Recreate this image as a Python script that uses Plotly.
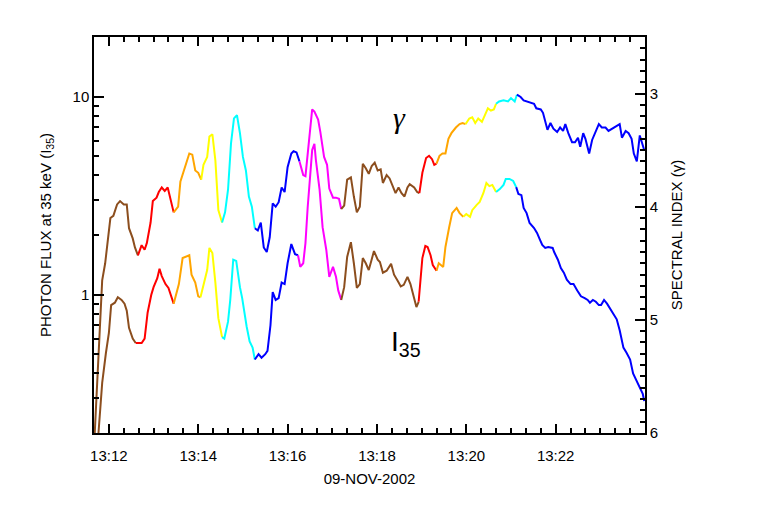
import plotly.graph_objects as go
from datetime import datetime, timedelta

# ---- data (time in seconds after 13:11:40 UT, 09-NOV-2002) ----
gamma_t = [1, 11, 15, 22, 26, 31, 35, 40, 44, 47, 52, 55, 59, 64, 68, 71, 76, 79, 84, 87,
           91, 95, 99, 102, 107, 109, 113, 116, 120, 124, 128, 132, 136, 140, 144, 147, 152, 155, 159, 163,
           167, 172, 176, 180, 184, 188, 192, 196, 200, 204, 208, 212, 216, 220, 224, 228, 232, 236, 240, 244,
           248, 252, 256, 260, 265, 268, 272, 276, 281, 284, 289, 293, 296, 301, 304, 309, 313, 316, 321, 325,
           329, 332, 336, 340, 345, 349, 353, 357, 361, 365, 369, 373, 377, 381, 385, 388, 393, 397, 401, 405,
           409, 413, 417, 421, 424, 430, 434, 437, 441, 446, 450, 454, 457, 460, 464, 468, 472, 476, 480, 486,
           491, 495, 499, 504, 508, 512, 516, 521, 525, 529, 533, 537, 540, 544, 550, 556, 560, 565, 568, 573,
           577, 582, 586, 591, 594, 600, 603, 606, 609, 613, 617, 622, 626, 630, 633, 637, 642, 646, 650, 653,
           657, 660, 665, 669, 673, 678, 682, 687, 691, 696, 700, 706, 709, 714, 718, 722, 725, 729, 733, 736, 739]
gamma_v = [6.00, 4.65, 4.50, 4.10, 4.08, 3.98, 3.95, 3.98, 3.98, 4.19, 4.28, 4.36, 4.43, 4.34, 4.38, 4.32, 4.14, 3.95, 3.92, 3.87,
           3.83, 3.86, 3.83, 3.91, 4.05, 4.03, 4.00, 3.78, 3.69, 3.60, 3.53, 3.54, 3.68, 3.70, 3.76, 3.63, 3.56, 3.38, 3.36, 3.59,
           4.03, 4.14, 4.05, 3.85, 3.44, 3.22, 3.19, 3.35, 3.56, 3.68, 3.91, 4.00, 4.19, 4.21, 4.14, 4.36, 4.40, 4.27, 3.97, 4.00,
           3.96, 3.83, 3.87, 3.65, 3.53, 3.51, 3.52, 3.60, 3.72, 3.73, 3.41, 3.14, 3.16, 3.23, 3.34, 3.56, 3.63, 3.84, 3.92, 3.92,
           3.93, 4.02, 3.99, 3.76, 3.74, 3.91, 4.05, 4.00, 3.62, 3.66, 3.71, 3.64, 3.61, 3.68, 3.67, 3.79, 3.72, 3.75, 3.82, 3.88,
           3.83, 3.88, 3.91, 3.83, 3.80, 3.83, 3.87, 3.88, 3.70, 3.57, 3.55, 3.58, 3.63, 3.62, 3.55, 3.53, 3.53, 3.40, 3.35, 3.30,
           3.27, 3.26, 3.27, 3.22, 3.21, 3.26, 3.22, 3.25, 3.19, 3.13, 3.15, 3.14, 3.09, 3.07, 3.06, 3.07, 3.04, 3.07, 3.01, 3.03,
           3.06, 3.07, 3.08, 3.09, 3.13, 3.14, 3.17, 3.25, 3.32, 3.26, 3.31, 3.34, 3.30, 3.33, 3.27, 3.35, 3.43, 3.43, 3.39, 3.47,
           3.35, 3.40, 3.53, 3.41, 3.34, 3.27, 3.30, 3.30, 3.33, 3.31, 3.30, 3.27, 3.39, 3.33, 3.35, 3.40, 3.53, 3.60, 3.37, 3.43, 3.50]

i35_t = [6, 11, 16, 20, 23, 28, 32, 37, 41, 44, 47, 52, 56, 60, 64, 68, 72, 77, 80, 85,
         88, 91, 96, 100, 104, 107, 111, 114, 119, 123, 128, 131, 136, 140, 143, 148, 152, 155, 159, 163,
         167, 172, 175, 180, 183, 187, 191, 196, 199, 205, 209, 213, 216, 221, 225, 230, 233, 237, 240, 244,
         248, 252, 256, 260, 265, 270, 274, 277, 281, 284, 287, 291, 293, 296, 298, 303, 307, 312, 316, 321,
         325, 328, 332, 336, 340, 345, 349, 353, 357, 361, 365, 369, 372, 376, 381, 384, 388, 393, 399, 403,
         408, 412, 416, 421, 425, 428, 433, 436, 441, 445, 448, 452, 455, 460, 463, 469, 472, 477, 481, 487,
         491, 496, 500, 505, 508, 514, 518, 523, 527, 531, 535, 540, 545, 550, 553, 558, 563, 567, 570, 574,
         577, 581, 585, 591, 595, 599, 602, 606, 610, 616, 618, 623, 627, 631, 635, 640, 644, 649, 654, 659,
         663, 666, 670, 674, 678, 681, 685, 689, 694, 698, 702, 706, 711, 715, 720, 724, 728, 733, 737, 739]
i35_v = [0.20, 0.358, 0.507, 0.64, 0.885, 0.91, 0.97, 0.94, 0.90, 0.83, 0.68, 0.60, 0.57, 0.57, 0.57, 0.60, 0.81, 1.00, 1.09, 1.21,
         1.35, 1.24, 1.13, 1.08, 0.97, 0.90, 1.03, 1.13, 1.53, 1.55, 1.58, 1.26, 1.15, 0.98, 0.97, 1.16, 1.33, 1.72, 1.62, 1.15,
         0.76, 0.61, 0.60, 0.73, 0.94, 1.50, 1.48, 1.09, 0.96, 0.69, 0.58, 0.54, 0.47, 0.50, 0.48, 0.50, 0.52, 0.70, 1.03, 0.94,
         0.96, 1.15, 1.13, 1.44, 1.80, 1.60, 1.58, 1.38, 1.44, 1.82, 2.77, 4.41, 5.37, 5.77, 4.78, 3.38, 2.19, 1.68, 1.23, 1.38,
         1.23, 1.05, 0.94, 1.09, 1.55, 1.84, 1.44, 1.08, 1.13, 1.53, 1.44, 1.33, 1.46, 1.66, 1.50, 1.46, 1.29, 1.32, 1.43, 1.26,
         1.17, 1.10, 1.12, 1.23, 1.13, 1.02, 0.865, 0.92, 1.53, 1.76, 1.74, 1.58, 1.41, 1.32, 1.44, 1.38, 1.74, 2.19, 2.58, 2.74,
         2.58, 2.47, 2.55, 2.47, 2.67, 2.84, 2.94, 3.26, 3.66, 3.53, 3.58, 3.30, 3.41, 3.58, 3.84, 3.84, 3.75, 3.49, 3.22, 3.18,
         2.74, 2.58, 2.30, 2.17, 2.05, 1.89, 1.78, 1.72, 1.74, 1.72, 1.64, 1.50, 1.36, 1.29, 1.19, 1.13, 1.13, 1.05, 0.98, 0.96,
         0.94, 0.91, 0.94, 0.92, 0.885, 0.885, 0.94, 0.90, 0.84, 0.79, 0.75, 0.66, 0.54, 0.51, 0.47, 0.40, 0.37, 0.34, 0.315, 0.29]

# colour intervals (seconds after 13:11:40)
seg_bounds = [0, 59, 108, 144, 172, 216, 276, 332, 437, 460, 499, 540, 568, 740]
seg_colors = ["#8C4E1E", "#FF0000", "#FFA500", "#FFFF00", "#00FFFF", "#0000FF", "#FF00FF",
              "#8C4E1E", "#FF0000", "#FFA500", "#FFFF00", "#00FFFF", "#0000FF"]

x_ticks = ["13:12", "13:14", "13:16", "13:18", "13:20", "13:22"]

base = datetime(2002, 11, 9, 13, 11, 40)


def to_time(ts):
    return [base + timedelta(seconds=s) for s in ts]


def segments(ts, vs):
    out = []
    for k, col in enumerate(seg_colors):
        lo, hi = seg_bounds[k], seg_bounds[k + 1]
        idx = [i for i, t in enumerate(ts) if lo <= t <= hi]
        if not idx:
            continue
        a, b = idx[0], idx[-1]
        if ts[a] > lo and a > 0:
            a -= 1
        out.append((col, ts[a:b + 1], vs[a:b + 1]))
    return out


fig = go.Figure()
for col, ts, vs in segments(i35_t, i35_v):
    fig.add_trace(go.Scatter(x=to_time(ts), y=vs, mode="lines", yaxis="y",
                             line=dict(color=col, width=2), showlegend=False, hoverinfo="skip"))
for col, ts, vs in segments(gamma_t, gamma_v):
    fig.add_trace(go.Scatter(x=to_time(ts), y=vs, mode="lines", yaxis="y2",
                             line=dict(color=col, width=2), showlegend=False, hoverinfo="skip"))

FONT = "Liberation Sans, Arial, Helvetica, sans-serif"
minor_log = [0.2, 0.3, 0.4, 0.5, 0.6, 0.7, 0.8, 0.9, 2, 3, 4, 5, 6, 7, 8, 9, 20]

fig.update_layout(
    width=755, height=501,
    margin=dict(l=86, r=118, t=29, b=76),
    paper_bgcolor="white", plot_bgcolor="white",
    font=dict(family=FONT, size=15, color="black"),
    xaxis=dict(
        type="date",
        range=[base, base + timedelta(seconds=740)],
        tickvals=[datetime(2002, 11, 9, 13, 12) + timedelta(minutes=2 * i) for i in range(6)],
        ticktext=x_ticks,
        ticks="inside", ticklen=9, tickwidth=1.5, tickcolor="black",
        ticklabelstandoff=8,
        minor=dict(dtick=20000, tick0=base, ticks="inside", ticklen=5, tickwidth=1.5, tickcolor="black"),
        showline=True, linecolor="black", linewidth=1.5, mirror="ticks",
        showgrid=False, zeroline=False,
        title=dict(text="09-NOV-2002", font=dict(size=15), standoff=11),
    ),
    yaxis=dict(
        type="log",
        range=[-0.69897, 1.30103],
        tickvals=[1, 10], ticktext=["1", "10"],
        ticks="inside", ticklen=10, tickwidth=1.5, tickcolor="black",
        minor=dict(tickvals=minor_log, ticks="inside", ticklen=5, tickwidth=1.5, tickcolor="black"),
        showline=True, linecolor="black", linewidth=1.5,
        showgrid=False, zeroline=False,
        title=dict(text="PHOTON FLUX at 35 keV (I<sub>35</sub>)", font=dict(size=15), standoff=17),
    ),
    yaxis2=dict(
        overlaying="y", side="right",
        range=[6, 2.5],
        tickvals=[3, 4, 5, 6], ticktext=["3", "4", "5", "6"],
        ticks="inside", ticklen=10, tickwidth=1.5, tickcolor="black",
        minor=dict(dtick=0.1, tick0=0, ticks="inside", ticklen=5, tickwidth=1.5, tickcolor="black"),
        showline=True, linecolor="black", linewidth=1.5,
        showgrid=False, zeroline=False,
        title=dict(text="SPECTRAL INDEX (γ)", font=dict(size=15), standoff=14),
    ),
    annotations=[
        dict(text="<i>γ</i>", x=0.554, y=0.843, xref="paper", yref="paper", showarrow=False,
             font=dict(family="Liberation Serif, DejaVu Serif, serif", size=30, color="black")),
        dict(text="I<sub>35</sub>", x=0.566, y=0.177, xref="paper", yref="paper", showarrow=False,
             font=dict(family=FONT, size=28, color="black")),
    ],
)

fig.write_html("out.html")
